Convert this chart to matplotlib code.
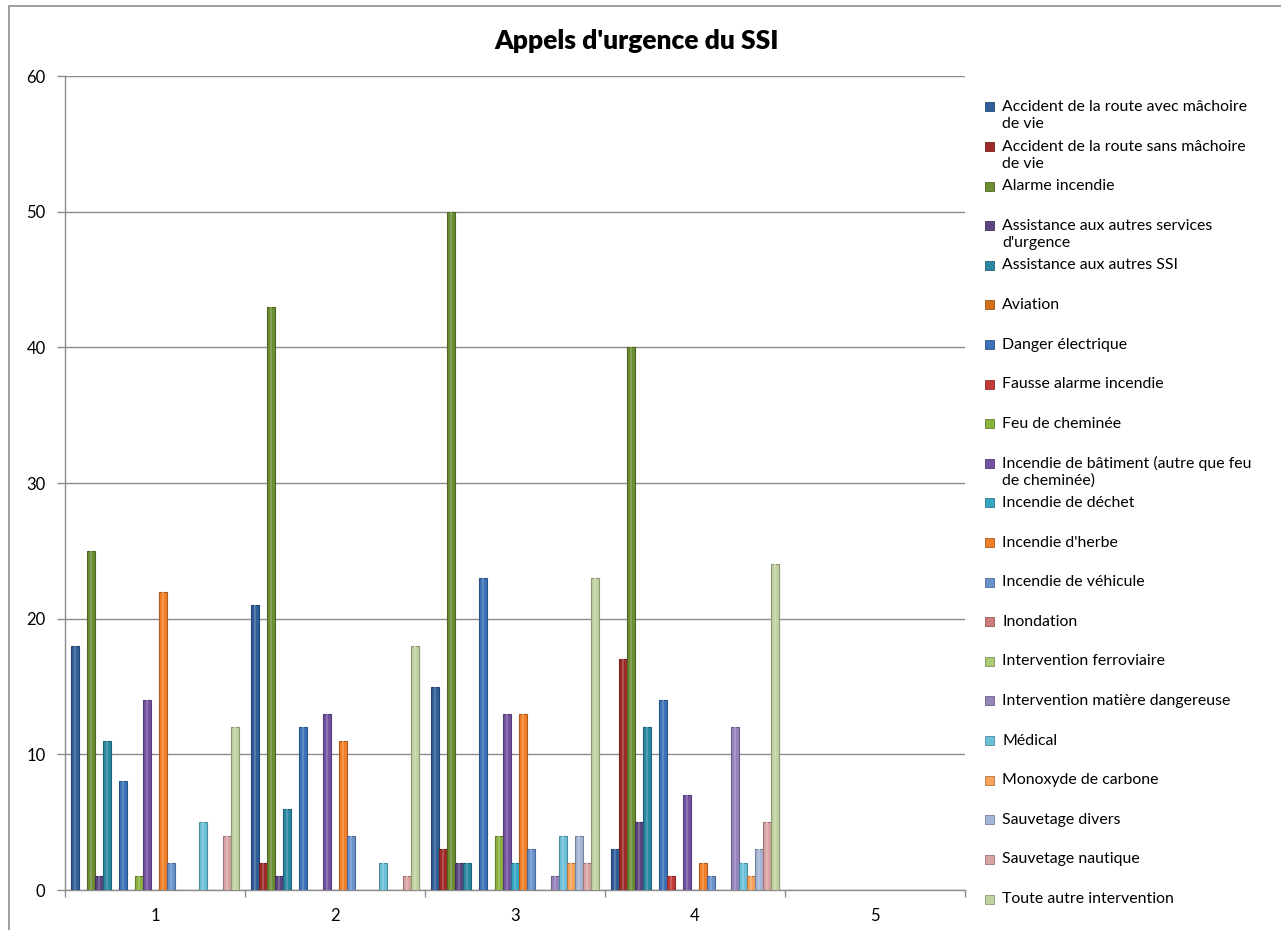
import numpy as np
import matplotlib
matplotlib.use("Agg")
import matplotlib.pyplot as plt
from matplotlib.patches import Rectangle
import textwrap

plt.rcParams['font.family'] = ['Lato', 'DejaVu Sans']

title = "Appels d'urgence du SSI"
categories = ["1", "2", "3", "4", "5"]

series_names = [
    "Accident de la route avec mâchoire de vie",
    "Accident de la route sans mâchoire de vie",
    "Alarme incendie",
    "Assistance aux autres services d'urgence",
    "Assistance aux autres SSI",
    "Aviation",
    "Danger électrique",
    "Fausse alarme incendie",
    "Feu de cheminée",
    "Incendie de bâtiment (autre que feu de cheminée)",
    "Incendie de déchet",
    "Incendie d'herbe",
    "Incendie de véhicule",
    "Inondation",
    "Intervention ferroviaire",
    "Intervention matière dangereuse",
    "Médical",
    "Monoxyde de carbone",
    "Sauvetage divers",
    "Sauvetage nautique",
    "Toute autre intervention",
]

# values per series for categories 1..5
accident_avec = [18, 21, 15, 3, 0]
accident_sans = [0, 2, 3, 17, 0]
alarme_incendie = [25, 43, 50, 40, 0]
assistance_services = [1, 1, 2, 5, 0]
assistance_ssi = [11, 6, 2, 12, 0]
aviation = [0, 0, 0, 0, 0]
danger_electrique = [8, 12, 23, 14, 0]
fausse_alarme = [0, 0, 0, 1, 0]
feu_cheminee = [1, 0, 4, 0, 0]
incendie_batiment = [14, 13, 13, 7, 0]
incendie_dechet = [0, 0, 2, 0, 0]
incendie_herbe = [22, 11, 13, 2, 0]
incendie_vehicule = [2, 4, 3, 1, 0]
inondation = [0, 0, 0, 0, 0]
intervention_ferroviaire = [0, 0, 0, 0, 0]
intervention_matiere = [0, 0, 1, 12, 0]
medical = [5, 2, 4, 2, 0]
monoxyde = [0, 0, 2, 1, 0]
sauvetage_divers = [0, 0, 4, 3, 0]
sauvetage_nautique = [4, 1, 2, 5, 0]
toute_autre = [12, 18, 23, 24, 0]

series_values = [
    accident_avec, accident_sans, alarme_incendie, assistance_services,
    assistance_ssi, aviation, danger_electrique, fausse_alarme, feu_cheminee,
    incendie_batiment, incendie_dechet, incendie_herbe, incendie_vehicule,
    inondation, intervention_ferroviaire, intervention_matiere, medical,
    monoxyde, sauvetage_divers, sauvetage_nautique, toute_autre,
]

colors = [
    "#2F5E99", "#9E2B28", "#6C8E33", "#5C4481", "#2A88A2", "#D4701C",
    "#3C72B8", "#C23B38", "#8AB23F", "#7353A0", "#37A7C4", "#F07F27",
    "#6A92CD", "#CF7C7A", "#AACA74", "#9583BC", "#6CC1D8", "#F7A25A",
    "#A4B5D5", "#D9A3A2", "#BFD2A0",
]


def darker(c, f=0.72):
    r, g, b = matplotlib.colors.to_rgb(c)
    return (r * f, g * f, b * f)


def lighter(c, f=0.35):
    r, g, b = matplotlib.colors.to_rgb(c)
    return (r + (1 - r) * f, g + (1 - g) * f, b + (1 - b) * f)


W, H = 1281, 930
fig = plt.figure(figsize=(W / 100, H / 100), dpi=100)
fig.patch.set_facecolor("white")

# chart border
fig.patches.append(Rectangle((9 / W, -0.01), 1.02, 1 - 6 / H + 0.01,
                             transform=fig.transFigure, fill=False,
                             edgecolor="#8C8C8C", linewidth=1.2))

ax = fig.add_axes([65 / W, 40 / H, 900 / W, 814 / H])
ax.set_facecolor("white")

n = len(series_names)
x = np.arange(len(categories))
w = 1.0 / (n + 1.5)

for i, (vals, col) in enumerate(zip(series_values, colors)):
    vals = np.asarray(vals, dtype=float)
    mask = vals > 0
    pos = x[mask] + (i - (n - 1) / 2) * w
    ax.bar(pos, vals[mask], width=w * 0.94, color=col,
           edgecolor=darker(col), linewidth=0.8, zorder=3)
    ax.bar(pos, vals[mask], width=w * 0.35, color=lighter(col, 0.18),
           linewidth=0, zorder=4)

ax.set_xlim(-0.5, len(categories) - 0.5)
ax.set_ylim(0, 60)
ax.set_yticks(np.arange(0, 61, 10))
ax.yaxis.grid(True, color="#8C8C8C", linewidth=1.0, zorder=0)
ax.set_axisbelow(True)

ax.set_xticks(x)
ax.set_xticklabels(categories)
ax.set_xticks(np.arange(-0.5, len(categories), 1), minor=True)
ax.tick_params(axis="x", which="major", length=0, pad=13, labelsize=12)
ax.tick_params(axis="x", which="minor", length=5, color="#8C8C8C", width=1)
ax.tick_params(axis="y", length=6, color="#8C8C8C", width=1, pad=8, labelsize=12)

for s in ("top", "right"):
    ax.spines[s].set_visible(False)
for s in ("left", "bottom"):
    ax.spines[s].set_color("#8C8C8C")
    ax.spines[s].set_linewidth(1.0)

fig.text(637 / W, 1 - 41 / H, title, ha="center", va="center",
         fontsize=19, fontweight="heavy")

# legend (Excel-style, marker aligned to first line)
y0, dy, lh = 107, 39.6, 17
for i, (name, col) in enumerate(zip(series_names, colors)):
    yy = y0 + i * dy
    fig.patches.append(Rectangle(((989 - 4.5) / W, 1 - (yy + 4.5) / H), 9 / W, 9 / H,
                                 transform=fig.transFigure, facecolor=col,
                                 edgecolor=darker(col), linewidth=0.6))
    for j, line in enumerate(textwrap.wrap(name, 35)):
        fig.text(1002 / W, 1 - (yy + j * lh) / H, line, ha="left",
                 va="center", fontsize=11.4)

fig.savefig("out.png", dpi=100)
